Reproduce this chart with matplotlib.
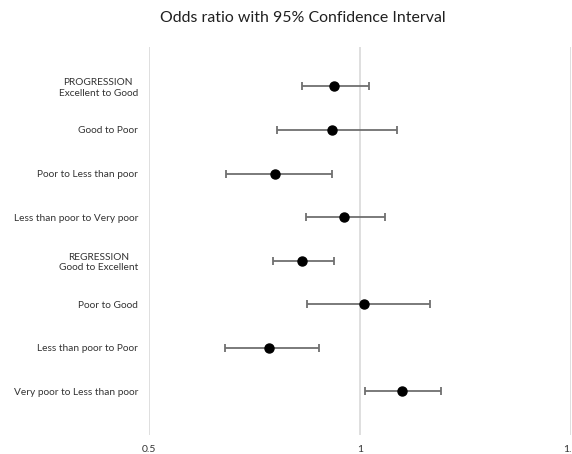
import numpy as np
import matplotlib
matplotlib.use("Agg")
import matplotlib.pyplot as plt

labels = ["PROGRESSION\nExcellent to Good", "Good to Poor", "Poor to Less than poor",
          "Less than poor to Very poor", "REGRESSION\nGood to Excellent", "Poor to Good",
          "Less than poor to Poor", "Very poor to Less than poor"]
odds = [0.939, 0.934, 0.799, 0.962, 0.863, 1.009, 0.784, 1.099]
lower = [0.863, 0.803, 0.682, 0.872, 0.794, 0.874, 0.680, 1.013]
upper = [1.021, 1.087, 0.934, 1.059, 0.938, 1.166, 0.904, 1.193]
xticks = [0.5, 1.0, 1.5]
xticklabels = ["0.5", "1", "1.5"]

plt.rcParams['font.family'] = ['Lato', 'DejaVu Sans']

fig = plt.figure(figsize=(5.72, 4.54), dpi=100)
ax = fig.add_axes([0.2605, 0.042, 0.7375, 0.855])

y = np.arange(1, len(labels) + 1)
odds = np.array(odds)
err = [odds - np.array(lower), np.array(upper) - odds]
ax.errorbar(odds, y, xerr=err, fmt='o', color='black', markersize=6.5,
            ecolor='#6f6f6f', elinewidth=1.3, capsize=3, capthick=1.3, zorder=3)

ax.set_xlim(0.5, 1.5)
ax.set_ylim(9.0, 0.09)
ax.set_xticks(xticks)
ax.set_xticklabels(xticklabels, fontsize=7.5, color='#333333')
ax.set_yticks(y)
ax.set_yticklabels(labels, fontsize=7.3, color='#333333', multialignment='center')
ax.tick_params(axis='both', length=0)
ax.tick_params(axis='x', pad=7)
ax.tick_params(axis='y', pad=8)
ax.xaxis.grid(True, color='#d9d9d9', linewidth=1.2)
ax.set_axisbelow(True)
for s in ax.spines.values():
    s.set_visible(False)

fig.suptitle("Odds ratio with 95% Confidence Interval", x=0.529, y=0.975, fontsize=11.4, color='#202020')

fig.savefig("out.png", dpi=100)
